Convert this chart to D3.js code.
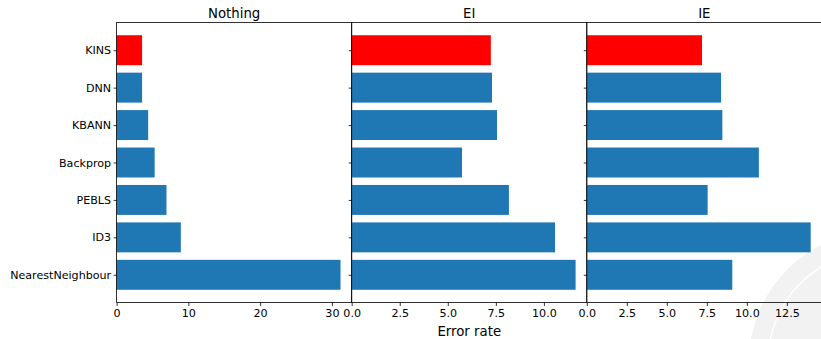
<!DOCTYPE html>
<html>
<head>
<meta charset="utf-8">
<script src="https://cdn.jsdelivr.net/npm/d3@7"></script>
<style>
  body { margin: 0; background: #fff; }
  svg text { font-family: "DejaVu Sans", sans-serif; fill: #000; }
</style>
</head>
<body>
<div id="chart"></div>
<script>
// error rates per method, one array per panel
var methods = ["KINS", "DNN", "KBANN", "Backprop", "PEBLS", "ID3", "NearestNeighbour"];
var panelNames = ["Nothing", "EI", "IE"];
var nothingErr = [3.55, 3.55, 4.4, 5.3, 6.95, 8.95, 31.2];
var eiErr = [7.24, 7.3, 7.56, 5.74, 8.18, 10.58, 11.65];
var ieErr = [7.2, 8.39, 8.47, 10.75, 7.55, 13.99, 9.09];
var tickSets = [[0, 10, 20, 30], [0, 2.5, 5, 7.5, 10], [0, 2.5, 5, 7.5, 10, 12.5]];
var highlight = "KINS";

var W = 821, H = 339;
var margin = {top: 22.5, left: 116.6, bottom: 36.5};
var panelW = 235.1,
    height = H - margin.top - margin.bottom;

var svg = d3.select("#chart").append("svg")
    .attr("width", W)
    .attr("height", H);

// faint seal in the corner
var seal = svg.append("g").attr("transform", "translate(880,362)");
seal.append("circle").attr("r", 131).attr("fill", "#f2f2f2");
seal.append("circle").attr("r", 112).attr("fill", "none")
    .attr("stroke", "#fff").attr("stroke-width", 1.5);

// barh-style y: index 0 at top, matplotlib default margins
var y = d3.scaleLinear()
    .domain([-0.74, 6.74])
    .range([margin.top, margin.top + height]);
var barH = 0.8 * (y(1) - y(0));

var allData = [nothingErr, eiErr, ieErr];

allData.forEach(function(vals, p) {
    var x0 = margin.left + p * panelW;
    var x = d3.scaleLinear()
        .domain([0, d3.max(vals) * 1.05])
        .range([x0, x0 + panelW]);

    var g = svg.append("g");

    g.selectAll(".bar")
        .data(vals)
        .enter().append("rect")
        .attr("class", "bar")
        .attr("x", x(0))
        .attr("y", function(d, i) { return y(i) - barH / 2; })
        .attr("width", function(d) { return x(d) - x(0); })
        .attr("height", barH)
        .attr("fill", function(d, i) { return methods[i] == highlight ? "#ff0000" : "#1f77b4"; });

    // x axis
    var fmt = p == 0 ? d3.format("d") : d3.format(".1f");
    var xAxis = d3.axisBottom(x)
        .tickValues(tickSets[p])
        .tickFormat(fmt)
        .tickSize(3.5)
        .tickPadding(3.5);
    var gx = g.append("g")
        .attr("transform", "translate(0," + (margin.top + height) + ")")
        .call(xAxis);
    gx.select(".domain").remove();
    gx.selectAll("text").style("font-size", "11.1px").attr("fill", "#000");
    gx.selectAll("line").attr("stroke", "#000").attr("stroke-width", 0.8);

    // y axis
    var yAxis = d3.axisLeft(y)
        .tickValues(d3.range(methods.length))
        .tickFormat(function(i) { return p == 0 ? methods[i] : ""; })
        .tickSize(3)
        .tickPadding(2.5);
    var gy = g.append("g")
        .attr("transform", "translate(" + x0 + ",0)")
        .call(yAxis);
    gy.select(".domain").remove();
    gy.selectAll("text").style("font-size", "11.1px").attr("fill", "#000");
    gy.selectAll("line").attr("stroke", "#000").attr("stroke-width", 0.8);

    // spines
    g.append("rect")
        .attr("x", x0)
        .attr("y", margin.top)
        .attr("width", panelW)
        .attr("height", height)
        .attr("fill", "none")
        .attr("stroke", "#000")
        .attr("stroke-width", 0.8);

    // panel title
    g.append("text")
        .attr("x", x0 + panelW / 2)
        .attr("y", 17.5)
        .attr("text-anchor", "middle")
        .style("font-size", "13.3px")
        .text(panelNames[p]);
});

svg.append("text")
    .attr("x", margin.left + panelW * 1.5)
    .attr("y", 336)
    .attr("text-anchor", "middle")
    .style("font-size", "13.3px")
    .text("Error rate");
</script>
</body>
</html>
